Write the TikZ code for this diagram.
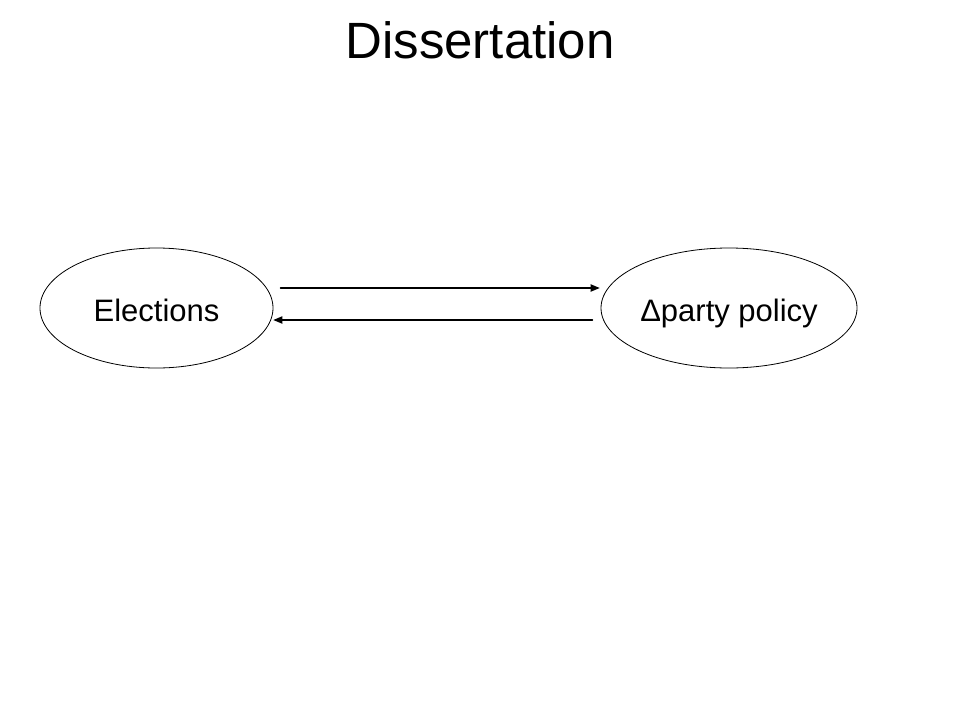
\documentclass[tikz,border=0pt]{standalone}
\usepackage{fontspec}
\setmainfont{Liberation Sans}
\usepackage{tikz}
\usetikzlibrary{arrows,shapes.geometric}

\begin{document}
\begin{tikzpicture}[line cap=round,line join=round,>=triangle 45,x=1pt,y=-1pt,
  oval/.style={draw,ellipse,line width=0.8pt,inner sep=0pt,minimum height=120pt,
    text height=29pt,text depth=3pt,font=\fontsize{31}{36}\selectfont},
  link/.style={->,line width=1.1pt}]
\useasboundingbox (0,0) rectangle (960,720);
\node[anchor=base,font=\fontsize{51}{60}\selectfont] (title) at (480,58) {Dissertation};
\node[oval,minimum width=233pt] (elec) at (156.5,308) {Elections};
\node[oval,minimum width=256pt] (pol) at (729,308) {Δparty policy};
\draw[link] ([shift={(7,-20)}]elec.east) -- ([shift={(-1,-20)}]pol.west);
\draw[link] ([shift={(-8,12)}]pol.west) -- ([shift={(0,12)}]elec.east);
\end{tikzpicture}
\end{document}
